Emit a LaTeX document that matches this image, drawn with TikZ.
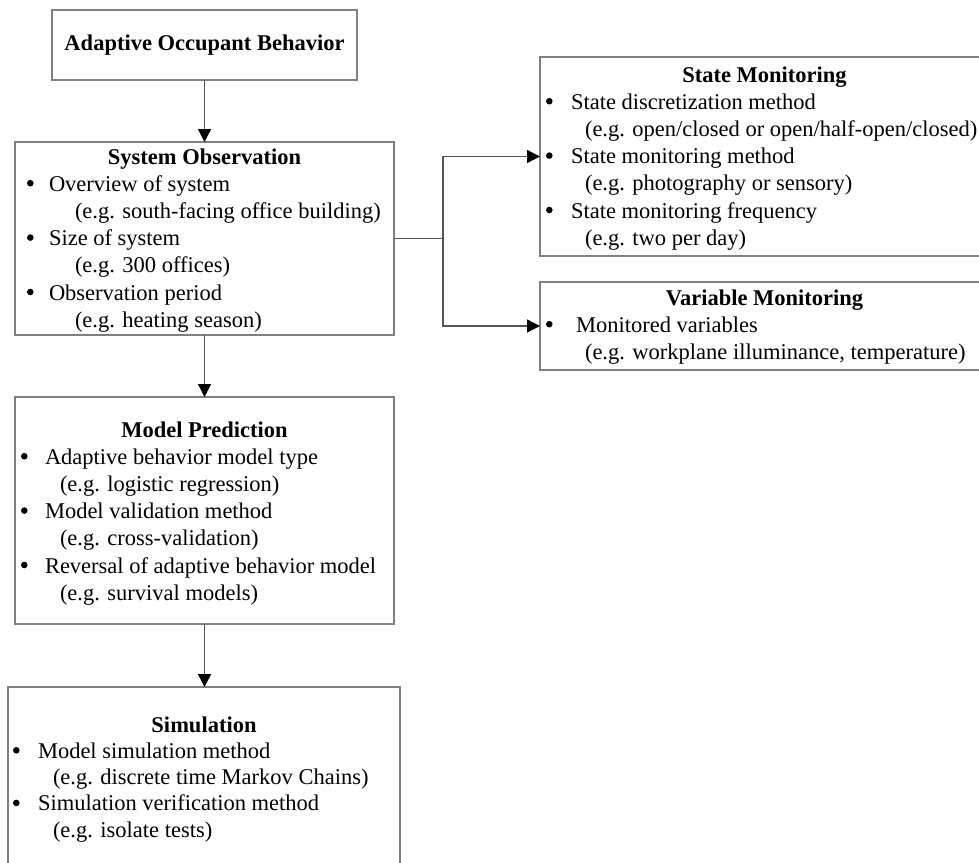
\documentclass[tikz,border=0pt]{standalone}
\usepackage{fontspec}
\setmainfont{Liberation Serif}
\usetikzlibrary{arrows.meta}
\definecolor{boxgray}{HTML}{808080}
\definecolor{linegray}{HTML}{555555}
\newcommand{\bul}{\tikz[x=1pt,y=1pt,baseline=0pt]{\useasboundingbox (0,0) rectangle (6.6,1); \fill[black] (3.3,8) circle (3.3pt);}}
\newcommand{\itm}[2]{\noindent\makebox[#1][l]{\bul}#2\par}
\newcommand{\subl}[2]{\noindent\hspace*{#1}#2\par}
\newcommand{\ttl}[1]{\noindent\makebox[\linewidth][c]{\bfseries #1}\par}
\begin{document}
\begin{tikzpicture}[x=1pt,y=-1pt,
  box/.style={draw=boxgray, line width=1.6pt, fill=white, anchor=north west, inner sep=0pt, outer sep=0pt},
  txt/.style={anchor=base west, inner sep=0pt, outer sep=0pt, font=\fontsize{22.5}{27.2}\selectfont},
  arr/.style={draw=linegray, line width=1.3pt, -{Triangle[length=13pt,width=13pt,fill=black,color=black]}},
  con/.style={draw=linegray, line width=1.3pt}]
\useasboundingbox (0,0) rectangle (979,862);
\clip (0,0) rectangle (979,862);
% boxes
\node[box, minimum width=305pt, minimum height=70pt] (ao) at (52,10) {};
\node[box, minimum width=379pt, minimum height=193pt] (so) at (15,142) {};
\node[box, minimum width=379pt, minimum height=227pt] (mp) at (15,397) {};
\node[box, minimum width=392pt, minimum height=193pt] (sim) at (8,687) {};
\node[box, minimum width=449pt, minimum height=199pt] (sm) at (540,57) {};
\node[box, minimum width=449pt, minimum height=88pt] (vm) at (540,282) {};
% texts
\node[txt, anchor=center, font=\fontsize{22.5}{27.2}\selectfont\bfseries] (ao-t) at (204.5,45) {Adaptive Occupant Behavior};
\node[txt] (so-t) at (27,164) {\begin{minipage}[t]{355pt}\baselineskip=27.2pt
\ttl{System Observation}
\itm{22pt}{Overview of system}
\subl{48pt}{(e.g. south-facing office building)}
\itm{22pt}{Size of system}
\subl{48pt}{(e.g. 300 offices)}
\itm{22pt}{Observation period}
\subl{48pt}{(e.g. heating season)}
\end{minipage}};
\node[txt] (mp-t) at (21,437) {\begin{minipage}[t]{367pt}\baselineskip=27.2pt
\ttl{Model Prediction}
\itm{24pt}{Adaptive behavior model type}
\subl{39pt}{(e.g. logistic regression)}
\itm{24pt}{Model validation method}
\subl{39pt}{(e.g. cross-validation)}
\itm{24pt}{Reversal of adaptive behavior model}
\subl{39pt}{(e.g. survival models)}
\end{minipage}};
\node[txt] (sim-t) at (13,732) {\begin{minipage}[t]{382pt}\baselineskip=26.3pt
\ttl{Simulation}
\itm{25pt}{Model simulation method}
\subl{40pt}{(e.g. discrete time Markov Chains)}
\itm{25pt}{Simulation verification method}
\subl{40pt}{(e.g. isolate tests)}
\end{minipage}};
\node[txt] (sm-t) at (546,82) {\begin{minipage}[t]{437pt}\baselineskip=27.2pt
\ttl{State Monitoring}
\itm{25pt}{State discretization method}
\subl{39pt}{(e.g. open/closed or open/half-open/closed)}
\itm{25pt}{State monitoring method}
\subl{39pt}{(e.g. photography or sensory)}
\itm{25pt}{State monitoring frequency}
\subl{39pt}{(e.g. two per day)}
\end{minipage}};
\node[txt] (vm-t) at (546,305) {\begin{minipage}[t]{437pt}\baselineskip=27.2pt
\ttl{Variable Monitoring}
\itm{30pt}{Monitored variables}
\subl{39pt}{(e.g. workplane illuminance, temperature)}
\end{minipage}};
% connectors
\draw[arr] (ao.south) -- (so.north);
\draw[arr] (so.south) -- (mp.north);
\draw[arr] (mp.south) -- (mp.south |- sim.north);
\coordinate (j) at (443,238.5);
\draw[con] (so.east) -- (j);
\draw[arr] (j) |- (sm.west);
\draw[arr] (j) |- (vm.west);
\end{tikzpicture}
\end{document}
